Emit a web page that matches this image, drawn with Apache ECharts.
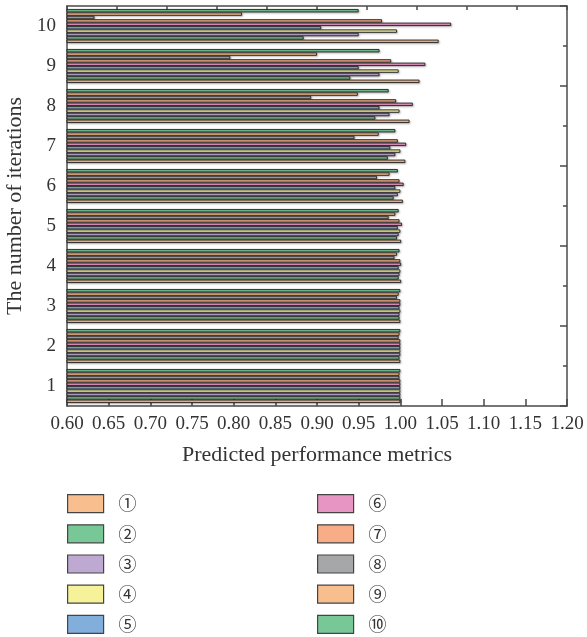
<!DOCTYPE html>
<html>
<head>
<meta charset="utf-8">
<script src="https://cdn.jsdelivr.net/npm/echarts@6/dist/echarts.min.js"></script>
<style>html,body{margin:0;padding:0;background:#fff}#c{width:587px;height:637px}</style>
</head>
<body>
<div id="c"></div>
<script>
var categories = ['1','2','3','4','5','6','7','8','9','10'];
var seriesNames = ['①','②','③','④','⑤','⑥','⑦','⑧','⑨','⑩'];
var xTickLabels = ['0.60','0.65','0.70','0.75','0.80','0.85','0.90','0.95','1.00','1.05','1.10','1.15','1.20'];
var s1  = [1.000, 1.000, 1.000, 1.001, 1.001, 1.003, 1.006, 1.011, 1.023, 1.046];
var s2  = [1.000, 0.999, 0.999, 0.998, 0.996, 0.992, 0.985, 0.970, 0.940, 0.884];
var s3  = [1.000, 1.000, 0.999, 0.999, 0.998, 0.997, 0.994, 0.987, 0.975, 0.950];
var s4  = [1.000, 1.000, 1.000, 1.000, 1.000, 1.000, 1.000, 0.999, 0.998, 0.996];
var s5  = [1.000, 1.000, 0.999, 0.998, 0.997, 0.994, 0.988, 0.975, 0.950, 0.905];
var s6  = [1.000, 1.000, 1.000, 1.001, 1.002, 1.004, 1.007, 1.015, 1.030, 1.061];
var s7  = [1.000, 1.000, 1.000, 1.000, 0.999, 0.999, 0.997, 0.995, 0.989, 0.978];
var s8  = [0.999, 0.998, 0.996, 0.993, 0.986, 0.972, 0.945, 0.893, 0.796, 0.633];
var s9  = [0.999, 0.999, 0.998, 0.996, 0.994, 0.987, 0.974, 0.949, 0.900, 0.810];
var s10 = [1.000, 1.000, 1.000, 0.999, 0.998, 0.997, 0.994, 0.986, 0.975, 0.950];
var seriesValues = [s1, s2, s3, s4, s5, s6, s7, s8, s9, s10];
var colors = ['#F9BE8E','#78C797','#BEA9D3','#F6F29A','#82AEDC','#E796C3','#F9AD87','#A6A7A9','#F9BE8E','#78C797'];

var serif = '"Liberation Serif", "DejaVu Serif", serif';
var axisColor = '#4a4a4a';

// series 1 drawn at the bottom of each group: add in reverse order
var series = [];
for (var k = seriesValues.length - 1; k >= 0; k--) {
  series.push({
    name: seriesNames[k],
    type: 'bar',
    xAxisIndex: 0,
    yAxisIndex: 0,
    data: seriesValues[k],
    barGap: '0%',
    barCategoryGap: '15%',
    itemStyle: {
      color: colors[k],
      borderColor: '#222',
      borderWidth: 0.9,
      shadowColor: 'rgba(0,0,0,0.25)',
      shadowBlur: 2,
      shadowOffsetX: 1,
      shadowOffsetY: 1
    },
    silent: true,
    animation: false
  });
}

var legendBase = {
  orient: 'vertical',
  top: 494,
  height: 200,
  padding: 0,
  itemWidth: 36,
  itemHeight: 18,
  itemGap: 11,
  icon: 'rect',
  itemStyle: { borderColor: '#444', borderWidth: 1.2, shadowBlur: 0, shadowOffsetX: 0, shadowOffsetY: 0 },
  textStyle: { fontFamily: '"Noto Sans CJK JP", "DejaVu Sans", sans-serif', fontSize: 18, lineHeight: 18, color: '#333', padding: [0, 0, 0, 10] }
};

var option = {
  backgroundColor: '#fff',
  animation: false,
  grid: { left: 67, right: 20, top: 6, bottom: 231, containLabel: false, outerBoundsMode: 'none' },
  legend: [
    Object.assign({}, legendBase, { left: 67, data: seriesNames.slice(0, 5) }),
    Object.assign({}, legendBase, { left: 317, data: seriesNames.slice(5, 10) })
  ],
  xAxis: [
    {
      type: 'value',
      position: 'bottom',
      min: 0.6, max: 1.2, interval: 0.05,
      name: 'Predicted performance metrics',
      nameLocation: 'middle',
      nameGap: 38,
      nameTextStyle: { fontFamily: serif, fontSize: 22, color: '#333' },
      axisLine: { show: true, lineStyle: { color: axisColor, width: 1.5 } },
      axisTick: { show: true, inside: true, length: 7, lineStyle: { color: axisColor, width: 1.5 } },
      axisLabel: {
        margin: 9,
        fontFamily: serif, fontSize: 19, color: '#333',
        formatter: function (v) { var idx = Math.round((v - 0.6) / 0.05); return xTickLabels[idx] || ''; }
      },
      splitLine: { show: false }
    },
    {
      type: 'value',
      position: 'top',
      min: 0, max: 10, interval: 1,
      axisLine: { show: true, lineStyle: { color: axisColor, width: 1.5 } },
      axisTick: { show: true, inside: true, length: 4, lineStyle: { color: axisColor, width: 1.5 } },
      axisLabel: { show: false },
      splitLine: { show: false }
    }
  ],
  yAxis: [
    {
      type: 'category',
      data: categories,
      position: 'left',
      name: 'The number of iterations',
      nameLocation: 'middle',
      nameGap: 37,
      nameTextStyle: { fontFamily: serif, fontSize: 22, color: '#333' },
      axisLine: { show: true, lineStyle: { color: axisColor, width: 1.5 } },
      axisTick: { show: false },
      axisLabel: { margin: 11, fontFamily: serif, fontSize: 19, color: '#333' },
      splitLine: { show: false }
    },
    {
      type: 'value',
      position: 'right',
      min: 0, max: 10, interval: 2,
      axisLine: { show: true, lineStyle: { color: axisColor, width: 1.5 } },
      axisTick: { show: true, inside: true, length: 7, lineStyle: { color: axisColor, width: 1.5 } },
      minorTick: { show: true, splitNumber: 2, length: 4, lineStyle: { color: axisColor, width: 1.5 } },
      axisLabel: { show: false },
      splitLine: { show: false }
    }
  ],
  series: series
};

var chart = echarts.init(document.getElementById('c'), null, { renderer: 'canvas' });
chart.setOption(option);
</script>
</body>
</html>
